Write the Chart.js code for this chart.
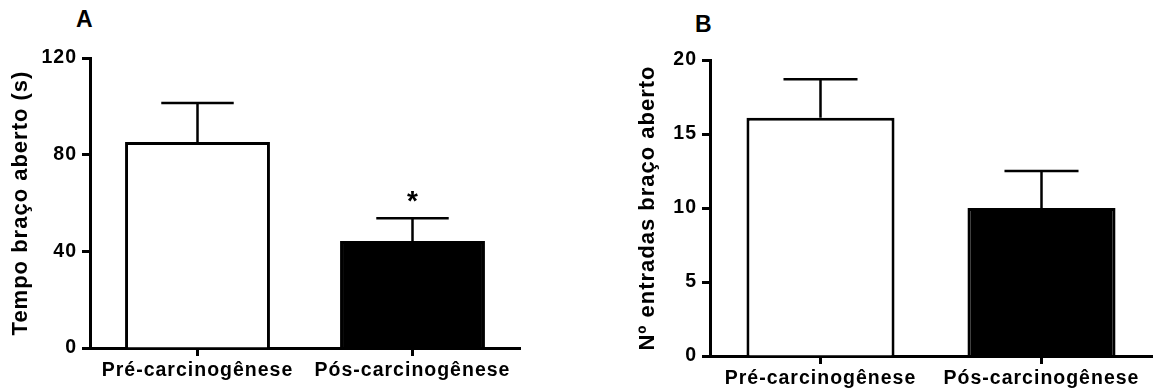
<!DOCTYPE html>
<html>
<head>
<meta charset="utf-8">
<script src="https://cdn.jsdelivr.net/npm/chart.js@4.4.1/dist/chart.umd.min.js"></script>
<style>
  html, body { margin: 0; padding: 0; background: #fff; }
  body { width: 1154px; height: 391px; position: relative; overflow: hidden; font-family: "Liberation Sans", Arial, sans-serif; }
  .panel { position: absolute; top: 0; }
  .letter { position: absolute; font-weight: bold; font-size: 23px; line-height: 1.117; color: #000; }
</style>
</head>
<body>
<div class="letter" style="left:76px;top:7px;">A</div>
<div class="letter" style="left:695px;top:12px;">B</div>
<div class="panel" style="left:0px;"><canvas id="chartA" width="577" height="391"></canvas></div>
<div class="panel" style="left:577px;"><canvas id="chartB" width="577" height="391"></canvas></div>
<script>
// ---- data ----
const categories = ["Pré-carcinogênese", "Pós-carcinogênese"];
const timeMeans = [85.2, 44.3];
const timeSem = [16.2, 9.4];
const timeSig = ["", "*"];
const timeTicks = [0, 40, 80, 120];
const entryMeans = [16.1, 10.0];
const entrySem = [2.6, 2.5];
const entrySig = ["", ""];
const entryTicks = [0, 5, 10, 15, 20];
const barFills = ["#ffffff", "#000000"];
const titleA = "Tempo braço aberto (s)";
const titleB = "Nº entradas braço aberto";

const FONT = "'Liberation Sans', Arial, sans-serif";

const spacingPlugin = {
  id: 'spacing',
  beforeLayout(chart) { chart.ctx.letterSpacing = '1px'; },
  beforeDraw(chart) { chart.ctx.letterSpacing = '1px'; }
};

const errorBarPlugin = {
  id: 'errorBars',
  afterDatasetsDraw(chart, args, opts) {
    const ctx = chart.ctx;
    const yScale = chart.scales.y;
    const meta = chart.getDatasetMeta(0);
    const ds = chart.data.datasets[0];
    ctx.save();
    ctx.strokeStyle = '#000';
    ctx.lineWidth = 2.5;
    meta.data.forEach((el, i) => {
      const top = yScale.getPixelForValue(ds.data[i] + opts.sem[i]);
      const half = el.width / 4;
      ctx.beginPath();
      ctx.moveTo(el.x, el.y);
      ctx.lineTo(el.x, top);
      ctx.moveTo(el.x - half, top);
      ctx.lineTo(el.x + half, top);
      ctx.stroke();
      if (opts.sig[i]) {
        ctx.fillStyle = '#000';
        ctx.letterSpacing = '0px';
        ctx.font = "bold 28px " + FONT;
        ctx.textAlign = 'center';
        ctx.textBaseline = 'middle';
        ctx.fillText(opts.sig[i], el.x, top - 16);
      }
    });
    ctx.restore();
  }
};

function makeChart(id, means, sem, sig, ticks, title, pad, yWidth, xHeight, barPct) {
  const tickVals = ticks.slice();
  return new Chart(document.getElementById(id), {
    type: 'bar',
    data: {
      labels: categories,
      datasets: [{
        data: means,
        backgroundColor: barFills,
        borderColor: '#000',
        borderWidth: 3,
        categoryPercentage: 1.0,
        barPercentage: barPct
      }]
    },
    options: {
      responsive: false,
      animation: false,
      events: [],
      layout: { padding: pad },
      plugins: {
        legend: { display: false },
        tooltip: { enabled: false },
        errorBars: { sem: sem, sig: sig }
      },
      scales: {
        x: {
          type: 'category',
          offset: true,
          grid: { offset: false, drawOnChartArea: false, drawTicks: true, tickLength: 8, tickWidth: 3, tickColor: '#000' },
          border: { display: true, color: '#000', width: 3 },
          ticks: { color: '#000', font: { family: FONT, size: 19.5, weight: 'bold' }, padding: 3, maxRotation: 0, autoSkip: false },
          afterFit(s) { s.height = xHeight; }
        },
        y: {
          min: tickVals[0],
          max: tickVals[tickVals.length - 1],
          afterBuildTicks(s) { s.ticks = tickVals.map(v => ({ value: v })); },
          grid: { drawOnChartArea: false, drawTicks: true, tickLength: 8, tickWidth: 3, tickColor: '#000' },
          border: { display: true, color: '#000', width: 3 },
          ticks: { color: '#000', font: { family: FONT, size: 19.5, weight: 'bold' }, padding: 5 },
          title: { display: true, text: title, color: '#000', font: { family: FONT, size: 22, weight: 'bold' }, padding: { top: 8, bottom: 0 } },
          afterFit(s) { s.width = yWidth; }
        }
      }
    },
    plugins: [spacingPlugin, errorBarPlugin]
  });
}

makeChart('chartA', timeMeans, timeSem, timeSig, timeTicks, titleA,
  { left: 0, right: 57, top: 58, bottom: 0 }, 90, 43, 0.674);
makeChart('chartB', entryMeans, entrySem, entrySig, entryTicks, titleB,
  { left: 50, right: 2, top: 60, bottom: 0 }, 83, 35, 0.67);
</script>
</body>
</html>
